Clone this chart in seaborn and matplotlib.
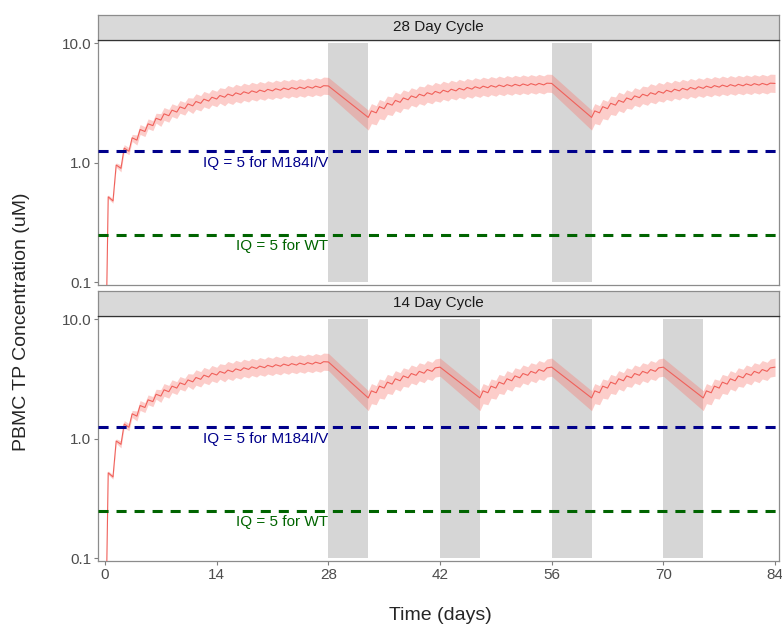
import matplotlib
matplotlib.use("Agg")
import matplotlib.pyplot as plt
import pandas as pd
import seaborn as sns

# --- Data ---
# One dose per day. Each profile lists trough, peak, trough, peak, ... and a final value.
# Lead-in, days 0-28 (same in both panels)
lead_mid = [0.01, 0.52, 0.48, 0.96, 0.90, 1.33, 1.25, 1.62, 1.55, 1.90, 1.83, 2.12,
            2.05, 2.36, 2.28, 2.57, 2.48, 2.76, 2.66, 2.94, 2.84, 3.11, 3.00, 3.26,
            3.15, 3.41, 3.29, 3.54, 3.42, 3.66, 3.54, 3.76, 3.64, 3.85, 3.73, 3.93,
            3.81, 4.00, 3.88, 4.06, 3.94, 4.12, 4.00, 4.17, 4.05, 4.22, 4.10, 4.26,
            4.14, 4.30, 4.18, 4.34, 4.22, 4.38, 4.26, 4.42, 4.40]
lead_hi = [0.01, 0.54, 0.50, 1.00, 0.96, 1.42, 1.34, 1.73, 1.71, 2.09, 2.01, 2.33,
           2.26, 2.60, 2.58, 2.90, 2.80, 3.12, 3.01, 3.32, 3.21, 3.51, 3.48, 3.78,
           3.65, 3.96, 3.82, 4.11, 3.97, 4.25, 4.18, 4.44, 4.30, 4.54, 4.40, 4.64,
           4.50, 4.72, 4.58, 4.79, 4.65, 4.86, 4.72, 4.92, 4.78, 4.98, 4.84, 5.03,
           4.89, 5.07, 4.93, 5.12, 4.98, 5.17, 5.03, 5.22, 5.19]
lead_lo = [0.01, 0.50, 0.46, 0.92, 0.84, 1.24, 1.17, 1.51, 1.41, 1.73, 1.66, 1.93,
           1.86, 2.15, 2.02, 2.27, 2.19, 2.44, 2.35, 2.60, 2.51, 2.75, 2.59, 2.81,
           2.72, 2.94, 2.84, 3.05, 2.95, 3.16, 3.00, 3.19, 3.08, 3.26, 3.16, 3.33,
           3.23, 3.39, 3.29, 3.44, 3.34, 3.49, 3.39, 3.53, 3.43, 3.58, 3.47, 3.61,
           3.51, 3.64, 3.54, 3.68, 3.58, 3.71, 3.61, 3.75, 3.73]

# Re-dosing after a 5 day break, 28 day cycle (23 doses)
r28_mid = [2.40, 2.72, 2.62, 2.95, 2.84, 3.15, 3.04, 3.33, 3.21, 3.49, 3.37, 3.63,
           3.51, 3.75, 3.63, 3.86, 3.74, 3.96, 3.83, 4.05, 3.92, 4.13, 4.00, 4.20,
           4.07, 4.27, 4.14, 4.33, 4.20, 4.38, 4.25, 4.43, 4.30, 4.47, 4.34, 4.51,
           4.38, 4.54, 4.41, 4.57, 4.44, 4.60, 4.47, 4.62, 4.49, 4.64, 4.62]
r28_hi = [2.76, 3.13, 3.01, 3.39, 3.27, 3.62, 3.56, 3.90, 3.76, 4.08, 3.94, 4.25,
          4.11, 4.39, 4.32, 4.59, 4.45, 4.71, 4.56, 4.82, 4.66, 4.91, 4.76, 5.00,
          4.84, 5.08, 4.93, 5.15, 5.00, 5.21, 5.06, 5.27, 5.12, 5.32, 5.16, 5.37,
          5.21, 5.40, 5.25, 5.44, 5.28, 5.47, 5.32, 5.50, 5.34, 5.52, 5.50]
r28_lo = [1.88, 2.13, 2.08, 2.34, 2.29, 2.54, 2.49, 2.73, 2.63, 2.86, 2.81, 3.03,
          2.93, 3.13, 3.03, 3.22, 3.12, 3.30, 3.22, 3.40, 3.29, 3.47, 3.36, 3.53,
          3.42, 3.59, 3.48, 3.64, 3.53, 3.68, 3.57, 3.72, 3.61, 3.76, 3.65, 3.79,
          3.68, 3.82, 3.71, 3.84, 3.73, 3.87, 3.76, 3.88, 3.77, 3.90, 3.88]

# Re-dosing after a 5 day break, 14 day cycle (9 doses)
r14_mid = [2.20, 2.52, 2.43, 2.76, 2.66, 2.98, 2.87, 3.18, 3.06, 3.36, 3.24, 3.52,
           3.40, 3.67, 3.54, 3.80, 3.67, 3.92, 3.98]
r14_hi = [2.53, 2.90, 2.79, 3.17, 3.09, 3.46, 3.36, 3.72, 3.58, 3.93, 3.82, 4.15,
          4.01, 4.33, 4.21, 4.52, 4.37, 4.66, 4.74]
r14_lo = [1.72, 1.97, 1.93, 2.19, 2.15, 2.40, 2.35, 2.61, 2.51, 2.75, 2.70, 2.93,
          2.83, 3.06, 2.95, 3.17, 3.08, 3.29, 3.34]

cycles = ["28 Day Cycle", "14 Day Cycle"]
phase_starts = {"28 Day Cycle": [("lead", 0), ("r28", 33), ("r28", 61)],
                "14 Day Cycle": [("lead", 0), ("r14", 33), ("r14", 47), ("r14", 61), ("r14", 75)]}
off_windows = {"28 Day Cycle": [(28, 33), (56, 61)],
               "14 Day Cycle": [(28, 33), (42, 47), (56, 61), (70, 75)]}
iq_m184 = 1.25
iq_wt = 0.25
x_ticks = [0, 14, 28, 42, 56, 70, 84]

profiles = {"lead": (lead_mid, lead_lo, lead_hi),
            "r28": (r28_mid, r28_lo, r28_hi),
            "r14": (r14_mid, r14_lo, r14_hi)}
peak_offset = 0.4


def build(cycle):
    parts = []
    for name, start in phase_starts[cycle]:
        mid, lo, hi = profiles[name]
        n = (len(mid) - 1) // 2
        t = []
        for i in range(n):
            t += [start + i, start + i + peak_offset]
        t.append(start + n)
        parts.append(pd.DataFrame({"day": t, "conc": mid, "lo": lo, "hi": hi}))
    df = pd.concat(parts, ignore_index=True)
    df["cycle"] = cycle
    return df


data = pd.concat([build(c) for c in cycles], ignore_index=True)

# --- Figure ---
sns.set_style("white")
plt.rcParams["font.family"] = ["Liberation Sans", "DejaVu Sans"]

fig = plt.figure(figsize=(7.82, 6.25), dpi=100)
left, width = 98 / 782, 681 / 782
panel_pos = [[left, 1 - 285 / 625, width, 245 / 625],
             [left, 1 - 561 / 625, width, 245 / 625]]
strip_pos = [[left, 1 - 40 / 625, width, 25 / 625],
             [left, 1 - 316 / 625, width, 25 / 625]]

for k, cyc in enumerate(cycles):
    ax = fig.add_axes(panel_pos[k])
    d = data[data["cycle"] == cyc]

    for a, b in off_windows[cyc]:
        ax.fill_between([a, b], 0.1, 10, color="#d6d6d6", lw=0, zorder=1)
    ax.fill_between(d["day"], d["lo"], d["hi"], color="#F8766D", alpha=0.36, lw=0, zorder=2)
    sns.lineplot(data=d, x="day", y="conc", ax=ax, color="#F0605A", lw=0.8,
                 sort=False, estimator=None, errorbar=None, zorder=3)

    ax.axhline(iq_m184, color="#00008B", lw=2.2, ls=(0, (3.3, 2.6)), zorder=4)
    ax.axhline(iq_wt, color="#006400", lw=2.2, ls=(0, (3.3, 2.6)), zorder=4)
    ax.text(28, iq_m184 / 1.25, "IQ = 5 for M184I/V", color="#00008B",
            fontsize=11, ha="right", va="center", zorder=5)
    ax.text(28, iq_wt / 1.25, "IQ = 5 for WT", color="#006400",
            fontsize=11, ha="right", va="center", zorder=5)

    ax.set_yscale("log")
    ax.set_ylim(0.0951, 10.66)
    ax.set_xlim(-0.88, 84.5)
    ax.set_yticks([0.1, 1.0, 10.0])
    ax.set_yticklabels(["0.1", "1.0", "10.0"])
    ax.minorticks_off()
    ax.set_xticks(x_ticks)
    ax.set_xlabel("")
    ax.set_ylabel("")
    ax.tick_params(axis="both", colors="#7f7f7f", labelcolor="#4d4d4d",
                   labelsize=11, length=3, width=0.8, direction="out", pad=2)
    ax.tick_params(axis="y", left=True)
    if k == 0:
        ax.tick_params(axis="x", bottom=False, labelbottom=False)
    else:
        ax.tick_params(axis="x", bottom=True)
    for s in ax.spines.values():
        s.set_color("#8c8c8c")
        s.set_linewidth(0.9)

    sax = fig.add_axes(strip_pos[k])
    sax.set_facecolor("#d9d9d9")
    sax.set_xticks([])
    sax.set_yticks([])
    for s in sax.spines.values():
        s.set_color("#8c8c8c")
        s.set_linewidth(0.9)
    sax.spines["bottom"].set_color("#333333")
    sax.text(0.5, 0.5, cyc, ha="center", va="center", fontsize=11,
             color="#1a1a1a", transform=sax.transAxes)

fig.text(0.027, 0.485, "PBMC TP Concentration (uM)", rotation=90,
         ha="center", va="center", fontsize=14)
fig.text(0.563, 0.016, "Time (days)", ha="center", va="center", fontsize=14)

fig.savefig("out.png", dpi=100)
